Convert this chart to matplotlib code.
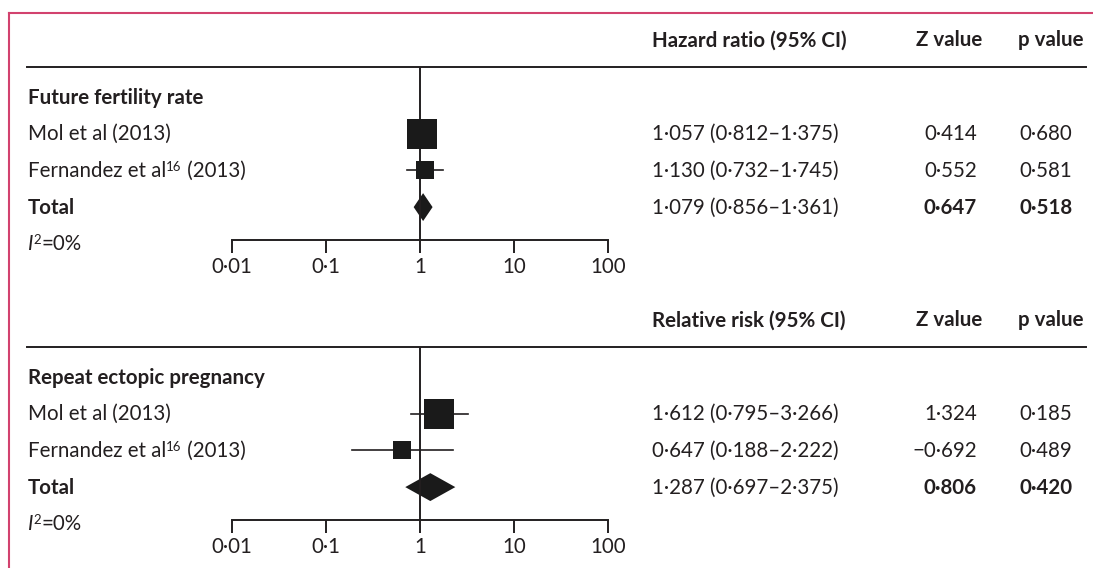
import matplotlib
matplotlib.use('Agg')
import matplotlib.pyplot as plt
from matplotlib.lines import Line2D

plt.rcParams['font.family'] = ['Lato', 'DejaVu Sans']

# ---- data ----
study_names = ['Mol et al', 'Fernandez et al']
study_refs = ['', '16']
study_years = ['(2013)', '(2013)']

fert_est = [1.057, 1.130]
fert_lo = [0.812, 0.732]
fert_hi = [1.375, 1.745]
fert_total = [1.079, 0.856, 1.361]
fert_z = [0.414, 0.552, 0.647]
fert_p = [0.680, 0.581, 0.518]

ect_est = [1.612, 0.647]
ect_lo = [0.795, 0.188]
ect_hi = [3.266, 2.222]
ect_total = [1.287, 0.697, 2.375]
ect_z = [1.324, -0.692, 0.806]
ect_p = [0.185, 0.489, 0.420]

ticks = [0.01, 0.1, 1, 10, 100]
tick_labels = ['0·01', '0·1', '1', '10', '100']
i2_text = '=0%'

# ---- style ----
W, H = 1093, 568
TXT = '#231f20'
LINE = '#231f20'
BORDER = '#d2426e'
FS = 14.8
ROW = 36.7


def fx(x):
    return x / W


def fy(y):
    return 1 - y / H


def num(v):
    s = f'{abs(v):.3f}'.replace('.', '·')
    return ('−' if v < 0 else '') + s


def ci(est, lo, hi):
    return f'{num(est)} ({num(lo)}–{num(hi)})'


fig = plt.figure(figsize=(W / 100, H / 100), dpi=100)
renderer = fig.canvas.get_renderer()


def pieces(x, y, parts):
    # parts: (text, dict of kwargs, raise in px)
    for s, kw, up in parts:
        t = fig.text(fx(x), fy(y) + up / H, s, va='baseline', ha='left',
                     color=TXT, fontsize=kw.pop('fontsize', FS), **kw)
        x = t.get_window_extent(renderer).x1


def section(y0, title, header, est, lo, hi, total, z, p, box):
    base = 6.5
    # header row
    fig.text(fx(652), fy(y0 + 40 + base), header, fontsize=FS, fontweight='bold',
             color=TXT, va='baseline')
    fig.text(fx(982), fy(y0 + 40 + base), 'Z value', fontsize=FS, fontweight='bold',
             color=TXT, va='baseline', ha='right')
    fig.text(fx(1018), fy(y0 + 40 + base), 'p value', fontsize=FS, fontweight='bold',
             color=TXT, va='baseline')
    fig.add_artist(Line2D([fx(27), fx(1086)], [fy(y0 + 67), fy(y0 + 67)],
                          color=LINE, lw=1.4))

    ytitle = y0 + 97
    fig.text(fx(28), fy(ytitle + base), title, fontsize=FS, fontweight='bold',
             color=TXT, va='baseline')

    # forest axes
    top, bottom = y0 + 67, y0 + 240
    ax = fig.add_axes([fx(232), fy(bottom), fx(608) - fx(232), (bottom - top) / H])
    ax.set_xscale('log')
    ax.set_xlim(0.01, 100)
    ax.set_ylim((bottom - ytitle) / ROW, (top - ytitle) / ROW)
    ax.patch.set_visible(False)
    for side in ['top', 'left', 'right']:
        ax.spines[side].set_visible(False)
    ax.spines['bottom'].set_color(LINE)
    ax.spines['bottom'].set_linewidth(1.4)
    ax.set_yticks([])
    ax.set_xticks(ticks)
    ax.set_xticklabels(tick_labels)
    ax.minorticks_off()
    ax.tick_params(axis='x', direction='out', length=9, width=1.4, color=LINE,
                   labelsize=FS, labelcolor=TXT, pad=3)
    ax.axvline(1, color=LINE, lw=1.4)

    for i in range(len(est)):
        r = i + 1
        ax.plot([lo[i], hi[i]], [r, r], color=LINE, lw=1.2)
        ax.plot([est[i]], [r], marker='s', ms=box[i], color='#1a1a1a', mew=0)
        yy = ytitle + ROW * r + base
        parts = [(study_names[i], {}, 0)]
        if study_refs[i]:
            parts.append((study_refs[i], {'fontsize': 9.5}, 6))
        parts.append((' ' + study_years[i], {}, 0))
        pieces(28, yy, parts)
        fig.text(fx(652), fy(yy), ci(est[i], lo[i], hi[i]), fontsize=FS,
                 color=TXT, va='baseline')
        fig.text(fx(977), fy(yy), num(z[i]), fontsize=FS, color=TXT,
                 va='baseline', ha='right')
        fig.text(fx(1019), fy(yy), num(p[i]), fontsize=FS, color=TXT,
                 va='baseline')

    # pooled estimate
    r = len(est) + 1
    h = 0.38
    te, tl, th = total
    ax.fill([tl, te, th, te], [r, r - h, r, r + h], color='#1a1a1a', lw=0)
    yy = ytitle + ROW * r + base
    fig.text(fx(28), fy(yy), 'Total', fontsize=FS, fontweight='bold',
             color=TXT, va='baseline')
    fig.text(fx(652), fy(yy), ci(te, tl, th), fontsize=FS, color=TXT,
             va='baseline')
    fig.text(fx(977), fy(yy), num(z[-1]), fontsize=FS, fontweight='bold',
             color=TXT, va='baseline', ha='right')
    fig.text(fx(1019), fy(yy), num(p[-1]), fontsize=FS, fontweight='bold',
             color=TXT, va='baseline')

    # heterogeneity
    yy = ytitle + ROW * (r + 1) + base
    pieces(28, yy, [('I', {'fontstyle': 'italic'}, 0),
                    ('2', {'fontsize': 9.5}, 6),
                    (i2_text, {}, 0)])


section(0, 'Future fertility rate', 'Hazard ratio (95% CI)',
        fert_est, fert_lo, fert_hi, fert_total, fert_z, fert_p, [21.5, 13.5])
section(280, 'Repeat ectopic pregnancy', 'Relative risk (95% CI)',
        ect_est, ect_lo, ect_hi, ect_total, ect_z, ect_p, [21, 13.5])

# pink frame (top and left only)
fig.add_artist(Line2D([fx(9), 1], [fy(13), fy(13)], color=BORDER, lw=1.5))
fig.add_artist(Line2D([fx(9), fx(9)], [fy(13), 0], color=BORDER, lw=1.5))

fig.savefig('out.png', dpi=100)
